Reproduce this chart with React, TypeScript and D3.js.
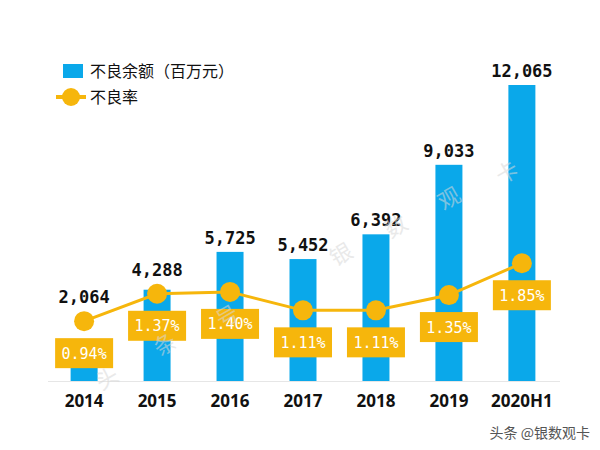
import React from "react";
import * as d3 from "d3";

const categories = ["2014", "2015", "2016", "2017", "2018", "2019", "2020H1"];
const balances = [2064, 4288, 5725, 5452, 6392, 9033, 12065];
const rates = [0.94, 1.37, 1.4, 1.11, 1.11, 1.35, 1.85];
const barLabels = ["2,064", "4,288", "5,725", "5,452", "6,392", "9,033", "12,065"];
const rateLabels = ["0.94%", "1.37%", "1.40%", "1.11%", "1.11%", "1.35%", "1.85%"];
const legendItems = ["不良余额（百万元）", "不良率"];
const watermarkChars = ["头", "条", "号", "银", "数", "观", "卡"];
const watermarkPos = [
  [108, 380],
  [166, 346],
  [228, 318],
  [342, 256],
  [397, 228],
  [450, 200],
  [508, 174],
];

const BLUE = "#0AA8EA";
const ORANGE = "#F6B60C";

export default function App() {
  const W = 600;
  const H = 450;
  const base = 381;
  const top = 85;
  const x = d3.scaleBand().domain(categories).range([48, 558]).paddingInner(0.63).paddingOuter(0.31);
  const y = d3.scaleLinear().domain([820, 12065]).range([base, top]);
  const y2 = d3.scaleLinear().domain([0, 4.65]).range([base, top]);
  const cx = (c: string) => (x(c) as number) + x.bandwidth() / 2;
  const line = d3
    .line<number>()
    .x((_, i) => cx(categories[i]))
    .y((d) => y2(d));
  const mono = "'DejaVu Sans Mono', monospace";
  const cjk = "'Noto Sans CJK SC', sans-serif";
  return (
    <svg width={W} height={H} style={{ position: "fixed", left: 0, top: 0, background: "#fff" }}>
      <rect width={W} height={H} fill="#fff" />
      {/* axis line */}
      <line x1={48} x2={560} y1={base + 0.5} y2={base + 0.5} stroke="#e6e6e6" strokeWidth={1} />
      {/* bars */}
      {balances.map((v, i) => (
        <rect
          key={"b" + i}
          x={x(categories[i])}
          y={y(v)}
          width={x.bandwidth()}
          height={base - y(v)}
          fill={BLUE}
        />
      ))}
      {/* bar value labels */}
      {balances.map((v, i) => {
        const ly = Math.min(y(v), y2(rates[i]) - 10) - 8;
        return (
          <text
            key={"bl" + i}
            x={cx(categories[i])}
            y={ly}
            textAnchor="middle"
            fontFamily={mono}
            fontWeight="bold"
            fontSize={17}
            fill="#111"
          >
            {barLabels[i]}
          </text>
        );
      })}
      {/* rate line */}
      <path d={line(rates) || ""} fill="none" stroke={ORANGE} strokeWidth={3} />
      {rates.map((r, i) => (
        <circle key={"c" + i} cx={cx(categories[i])} cy={y2(r)} r={10} fill={ORANGE} />
      ))}
      {/* rate label boxes */}
      {rates.map((r, i) => {
        const py = y2(r) + 32;
        const px = cx(categories[i]);
        return (
          <g key={"rl" + i}>
            <rect x={px - 29} y={py - 15} width={58} height={30} fill={ORANGE} />
            <text
              x={px}
              y={py + 5.5}
              textAnchor="middle"
              fontFamily={mono}
              fontSize={15}
              fill="#fff"
            >
              {rateLabels[i]}
            </text>
          </g>
        );
      })}
      {/* x axis labels */}
      {categories.map((c) => (
        <text
          key={"x" + c}
          x={cx(c)}
          y={407}
          textAnchor="middle"
          fontFamily="'Open Sans', sans-serif"
          fontWeight="bold"
          fontSize={17}
          fill="#111"
        >
          {c}
        </text>
      ))}
      {/* legend */}
      <rect x={63} y={64} width={20} height={14} fill={BLUE} />
      <text x={90} y={77} fontFamily={cjk} fontSize={16} fill="#111">
        {legendItems[0]}
      </text>
      <line x1={56} x2={86} y1={97} y2={97} stroke={ORANGE} strokeWidth={4} />
      <circle cx={71} cy={97} r={9} fill={ORANGE} />
      <text x={90} y={103} fontFamily={cjk} fontSize={16} fill="#111">
        {legendItems[1]}
      </text>
      {/* faint diagonal watermark */}
      {watermarkChars.map((ch, i) => (
        <text
          key={"w" + i}
          x={watermarkPos[i][0]}
          y={watermarkPos[i][1]}
          textAnchor="middle"
          dominantBaseline="middle"
          fontFamily={cjk}
          fontSize={22}
          fill="#d8d8d8"
          opacity={0.55}
          transform={`rotate(-30 ${watermarkPos[i][0]} ${watermarkPos[i][1]})`}
        >
          {ch}
        </text>
      ))}
      {/* corner watermark */}
      <text x={590} y={438} textAnchor="end" fontFamily={cjk} fontSize={14} fill="#555">
        头条 @银数观卡
      </text>
    </svg>
  );
}
